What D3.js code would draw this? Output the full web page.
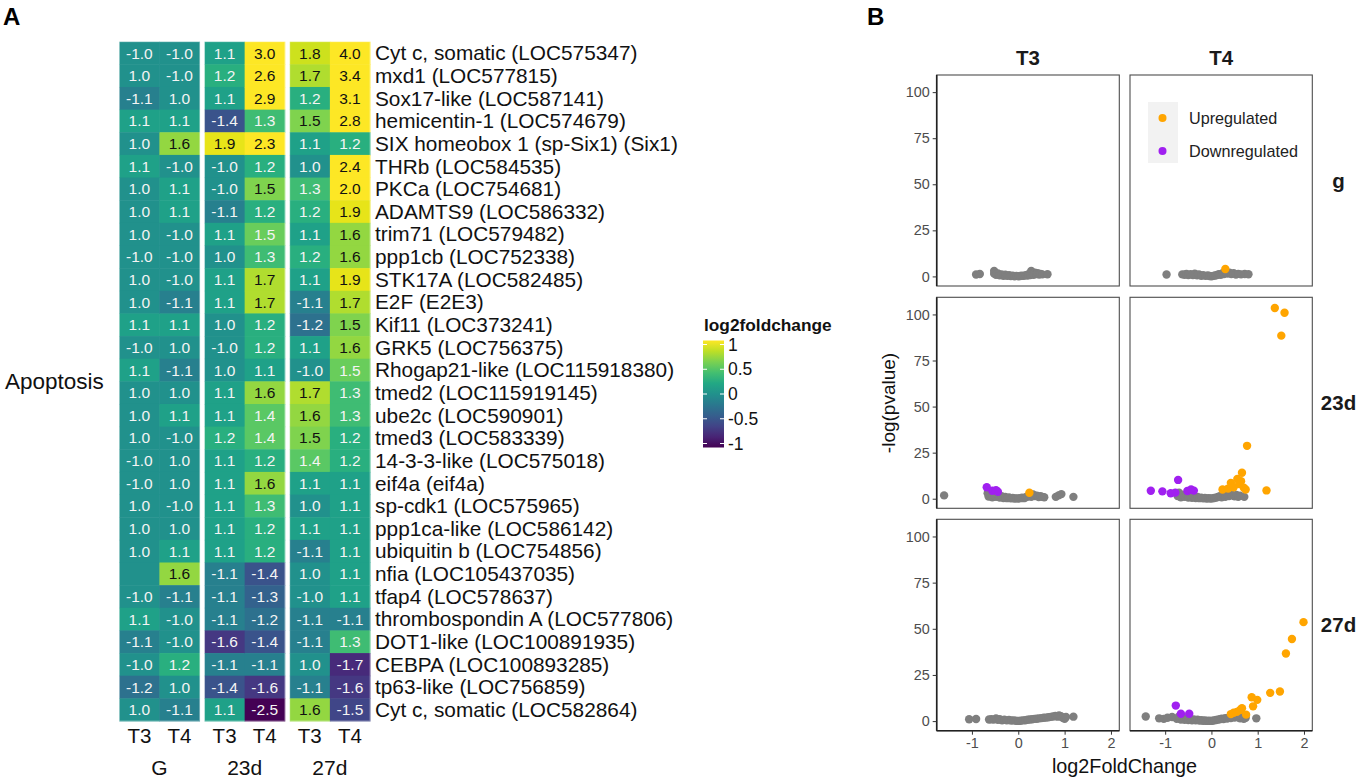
<!DOCTYPE html>
<html><head><meta charset="utf-8">
<script src="https://cdn.jsdelivr.net/npm/d3@7"></script>
<style>body{margin:0;background:#fff}svg{display:block;font-family:"Liberation Sans",Arial,sans-serif}</style>
</head><body><svg id="c" width="1358" height="780"></svg>
<script>
// ---------------- DATA ----------------
const genes = ["Cyt c, somatic (LOC575347)","mxd1 (LOC577815)","Sox17-like (LOC587141)","hemicentin-1 (LOC574679)","SIX homeobox 1 (sp-Six1) (Six1)","THRb (LOC584535)","PKCa (LOC754681)","ADAMTS9 (LOC586332)","trim71 (LOC579482)","ppp1cb (LOC752338)","STK17A (LOC582485)","E2F (E2E3)","Kif11 (LOC373241)","GRK5 (LOC756375)","Rhogap21-like (LOC115918380)","tmed2 (LOC115919145)","ube2c (LOC590901)","tmed3 (LOC583339)","14-3-3-like (LOC575018)","eif4a (eif4a)","sp-cdk1 (LOC575965)","ppp1ca-like (LOC586142)","ubiquitin b (LOC754856)","nfia (LOC105437035)","tfap4 (LOC578637)","thrombospondin A (LOC577806)","DOT1-like (LOC100891935)","CEBPA (LOC100893285)","tp63-like (LOC756859)","Cyt c, somatic (LOC582864)"];
const groups = ["G","23d","27d"];
const conditions = ["T3","T4"];
const G_T3   = [-1.0,1.0,-1.1,1.1,1.0,1.1,1.0,1.0,1.0,-1.0,1.0,1.0,1.1,-1.0,1.1,1.0,1.0,1.0,-1.0,-1.0,1.0,1.0,1.0,null,-1.0,1.1,-1.1,-1.0,-1.2,1.0];
const G_T4   = [-1.0,-1.0,1.0,1.1,1.6,-1.0,1.1,1.1,-1.0,-1.0,-1.0,-1.1,1.1,1.0,-1.1,1.0,1.1,-1.0,1.0,1.0,-1.0,1.0,1.1,1.6,-1.1,-1.0,-1.0,1.2,1.0,-1.1];
const d23_T3 = [1.1,1.2,1.1,-1.4,1.9,-1.0,-1.0,-1.1,1.1,1.0,1.1,1.1,1.0,-1.0,1.0,1.1,1.1,1.2,1.1,1.1,1.1,1.1,1.1,-1.1,-1.1,-1.1,-1.6,-1.1,-1.4,1.1];
const d23_T4 = [3.0,2.6,2.9,1.3,2.3,1.2,1.53,1.2,1.46,1.3,1.7,1.7,1.2,1.2,1.1,1.6,1.4,1.4,1.2,1.6,1.3,1.2,1.2,-1.4,-1.3,-1.2,-1.4,-1.1,-1.6,-2.5];
const d27_T3 = [1.8,1.7,1.2,1.53,1.1,1.0,1.3,1.2,1.1,1.2,1.1,-1.1,-1.2,1.1,-1.0,1.7,1.6,1.53,1.4,1.1,1.0,1.1,-1.1,1.0,-1.0,-1.1,-1.1,1.0,-1.1,1.6];
const d27_T4 = [4.0,3.4,3.1,2.8,1.2,2.4,2.0,1.9,1.6,1.6,1.9,1.7,1.53,1.6,1.46,1.3,1.3,1.2,1.2,1.1,1.1,1.1,1.1,1.1,1.1,-1.1,1.3,-1.7,-1.6,-1.5];
const columns = [G_T3, G_T4, d23_T3, d23_T4, d27_T3, d27_T4];
const legendTicks = [1, 0.5, 0, -0.5, -1];

// volcano: [log2FoldChange, -log(pvalue)]
const volcRows = ["g","23d","27d"];
const volcCols = ["T3","T4"];
const g_T3_gray = [[-0.91,1.0],[-0.83,1.3],[-0.52,2.9],[-0.52,1.5],[-0.48,0.9],[-0.44,1.6],[-0.40,0.6],[-0.36,1.1],[-0.32,0.4],[-0.28,0.9],[-0.24,0.3],[-0.20,0.6],[-0.16,0.2],[-0.12,0.4],[-0.08,0.1],[-0.04,0.3],[0.0,0.1],[0.04,0.2],[0.08,0.4],[0.12,0.3],[0.16,0.7],[0.20,0.5],[0.22,1.2],[0.26,0.8],[0.28,2.9],[0.30,1.5],[0.33,0.9],[0.36,2.0],[0.39,1.3],[0.42,1.7],[0.45,1.0],[0.48,1.4],[0.52,1.1],[0.63,1.2]];
const g_T4_gray = [[-0.97,1.0],[-0.63,1.1],[-0.58,0.9],[-0.54,1.4],[-0.50,0.7],[-0.45,1.2],[-0.40,0.8],[-0.36,1.5],[-0.31,0.6],[-0.27,1.0],[-0.22,0.4],[-0.18,0.7],[-0.13,0.3],[-0.08,0.5],[-0.04,0.2],[0.0,0.1],[0.04,0.3],[0.08,0.5],[0.12,0.8],[0.16,1.2],[0.20,0.9],[0.24,1.8],[0.27,1.3],[0.31,2.3],[0.35,1.6],[0.39,2.0],[0.43,1.3],[0.48,1.7],[0.53,1.0],[0.58,1.4],[0.64,1.1],[0.72,1.3],[0.80,1.2]];
const g_T4_up = [[0.30,4.0]];
const g_T3_up = [], g_T3_down = [], g_T4_down = [];
const d23_T3_gray = [[-1.60,1.8],[-0.66,3.0],[-0.64,1.2],[-0.60,2.2],[-0.56,0.8],[-0.52,1.8],[-0.48,1.0],[-0.44,2.5],[-0.40,0.6],[-0.36,1.4],[-0.32,0.4],[-0.28,1.0],[-0.24,0.3],[-0.20,0.7],[-0.16,0.2],[-0.12,0.4],[-0.08,0.1],[-0.04,0.2],[0.0,0.1],[0.04,0.3],[0.08,0.5],[0.12,0.3],[0.16,0.8],[0.20,1.2],[0.24,1.8],[0.28,1.0],[0.32,2.3],[0.36,1.4],[0.40,1.7],[0.44,0.9],[0.48,1.3],[0.52,1.0],[0.56,0.8],[0.81,1.0],[0.87,1.8],[0.93,2.5],[1.19,1.0]];
const d23_T3_down = [[-0.68,6.2],[-0.56,4.3],[-0.48,4.6],[-0.44,3.8]];
const d23_T3_up = [[0.24,3.2]];
const d23_T4_gray = [[-0.73,1.5],[-0.70,3.2],[-0.66,0.8],[-0.62,2.0],[-0.58,1.1],[-0.54,2.6],[-0.50,0.7],[-0.46,1.6],[-0.42,0.5],[-0.38,1.2],[-0.34,0.4],[-0.30,0.9],[-0.26,0.3],[-0.22,0.6],[-0.18,0.2],[-0.14,0.4],[-0.10,0.1],[-0.06,0.3],[-0.02,0.1],[0.02,0.2],[0.06,0.4],[0.10,0.6],[0.14,0.9],[0.18,1.3],[0.22,0.8],[0.26,1.7],[0.30,1.1],[0.34,2.2],[0.38,1.5],[0.42,2.6],[0.46,1.8],[0.50,1.3],[0.54,2.0],[0.58,1.0],[0.62,1.6],[0.71,1.0]];
const d23_T4_down = [[-1.31,4.3],[-1.06,4.0],[-0.88,3.0],[-0.78,3.3],[-0.72,10.2],[-0.52,4.2],[-0.44,5.0],[-0.38,4.4]];
const d23_T4_up = [[0.24,5.0],[0.36,5.5],[0.42,8.6],[0.48,6.2],[0.56,10.7],[0.60,8.0],[0.66,14.1],[0.64,9.5],[0.70,6.0],[0.74,5.0],[0.77,28.7],[1.19,4.5],[1.37,103.5],[1.58,100.9],[1.51,88.5]];
const d27_T3_gray = [[-1.06,1.0],[-0.91,1.1],[-0.63,0.9],[-0.58,1.0],[-0.53,0.8],[-0.48,1.4],[-0.44,0.7],[-0.40,1.0],[-0.35,0.5],[-0.30,0.8],[-0.25,0.4],[-0.20,0.6],[-0.15,0.3],[-0.10,0.4],[-0.05,0.2],[0.0,0.1],[0.05,0.2],[0.10,0.4],[0.15,0.5],[0.20,0.7],[0.25,0.9],[0.30,1.0],[0.35,1.2],[0.40,1.3],[0.45,1.5],[0.50,1.6],[0.55,1.8],[0.60,1.9],[0.65,2.1],[0.70,2.3],[0.75,2.5],[0.80,2.8],[0.85,2.4],[0.88,3.0],[0.92,2.6],[0.96,1.8],[1.00,1.2],[1.03,2.2],[1.19,2.4]];
const d27_T3_up = [], d27_T3_down = [];
const d27_T4_gray = [[-1.42,2.5],[-1.13,1.5],[-1.03,1.2],[-0.95,1.8],[-0.85,2.2],[-0.75,1.3],[-0.70,2.5],[-0.66,0.9],[-0.62,1.8],[-0.58,0.7],[-0.54,1.4],[-0.50,0.6],[-0.46,1.1],[-0.42,0.5],[-0.38,0.9],[-0.34,0.4],[-0.30,0.7],[-0.26,0.3],[-0.22,0.5],[-0.18,0.2],[-0.14,0.3],[-0.10,0.1],[-0.06,0.2],[-0.02,0.1],[0.02,0.2],[0.06,0.4],[0.10,0.6],[0.14,0.8],[0.18,1.0],[0.22,1.3],[0.26,1.1],[0.30,1.6],[0.34,1.4],[0.38,2.0],[0.42,1.7],[0.46,2.4],[0.50,1.9],[0.54,2.7],[0.58,2.1],[0.62,1.5],[0.66,2.4],[0.70,1.2],[0.74,1.8],[0.97,1.5]];
const d27_T4_down = [[-0.77,8.4],[-0.66,4.0],[-0.48,4.0]];
const d27_T4_up = [[0.42,3.8],[0.48,4.5],[0.55,5.0],[0.62,6.0],[0.66,7.0],[0.75,3.5],[0.87,12.9],[0.90,8.0],[0.99,11.5],[1.27,15.3],[1.48,16.0],[1.61,36.6],[1.74,44.5],[1.99,53.6]];
const volcData = {
  g:   {T3:{gray:g_T3_gray, down:g_T3_down, up:g_T3_up}, T4:{gray:g_T4_gray, down:g_T4_down, up:g_T4_up}},
  "23d":{T3:{gray:d23_T3_gray, down:d23_T3_down, up:d23_T3_up}, T4:{gray:d23_T4_gray, down:d23_T4_down, up:d23_T4_up}},
  "27d":{T3:{gray:d27_T3_gray, down:d27_T3_down, up:d27_T3_up}, T4:{gray:d27_T4_gray, down:d27_T4_down, up:d27_T4_up}}
};
const yTicks = [0,25,50,75,100];
const xTicks = [-1,0,1,2];
const legendItems = ["Upregulated","Downregulated"];

// ---------------- DRAW ----------------
const svg = d3.select("#c");
const FONT = '"Liberation Sans",Arial,sans-serif';
const fmtInt = v => (v<0?"-":"")+Math.abs(v);

// Panel A
svg.append("text").attr("x",3).attr("y",25).attr("font-size",24).attr("font-weight","bold").text("A");

const yRow = d3.scaleBand().domain(d3.range(genes.length)).range([41.7,721]);
const xGroup = d3.scaleBand().domain(groups).range([119.3,370]).paddingInner(0.0586);
const xCond = d3.scaleBand().domain(conditions).range([0,xGroup.bandwidth()]);
const color = d3.scaleSequential(d3.interpolateViridis).domain([-1,1]).clamp(true);
const lfc = v => v==null ? 0 : Math.sign(v)*Math.log2(Math.abs(v));

const cells = [];
columns.forEach((col,ci)=>{
  const g = groups[Math.floor(ci/2)], c = conditions[ci%2];
  col.forEach((v,ri)=>cells.push({g,c,ri,v}));
});
const hm = svg.append("g");
hm.selectAll("rect").data(cells).join("rect")
  .attr("x",d=>xGroup(d.g)+xCond(d.c)).attr("y",d=>yRow(d.ri))
  .attr("width",xCond.bandwidth()+0.5).attr("height",yRow.bandwidth()+0.5)
  .attr("fill",d=>color(lfc(d.v)));
hm.selectAll("text").data(cells.filter(d=>d.v!=null)).join("text")
  .attr("x",d=>xGroup(d.g)+xCond(d.c)+xCond.bandwidth()/2)
  .attr("y",d=>yRow(d.ri)+yRow.bandwidth()/2+5.5)
  .attr("text-anchor","middle").attr("font-size",15.5)
  .attr("fill",d=>lfc(d.v)>0.6?"#111":"#f4f4f4")
  .text(d=>(d.v<0?"-":"")+Math.abs(d.v).toFixed(1));
svg.append("g").selectAll("rect").data(groups).join("rect")
  .attr("x",d=>xGroup(d)).attr("y",yRow.range()[0]).attr("width",xGroup.bandwidth()).attr("height",yRow.range()[1]-yRow.range()[0])
  .attr("fill","none").attr("stroke","#ffffff").attr("stroke-opacity",0.35).attr("stroke-width",1);

// gene labels
svg.append("g").selectAll("text").data(genes).join("text")
  .attr("x",375).attr("y",(d,i)=>yRow(i)+yRow.bandwidth()/2+7.3)
  .attr("font-size",20.8).attr("fill","#111").text(d=>d);
svg.append("text").attr("x",5).attr("y",389).attr("font-size",22.5).attr("fill","#111").text("Apoptosis");
groups.forEach(g=>{
  conditions.forEach(c=>{
    svg.append("text").attr("x",xGroup(g)+xCond(c)+xCond.bandwidth()/2).attr("y",742.5)
      .attr("text-anchor","middle").attr("font-size",20.5).attr("fill","#111").text(c);
  });
  svg.append("text").attr("x",xGroup(g)+xGroup.bandwidth()/2).attr("y",775)
    .attr("text-anchor","middle").attr("font-size",21).attr("fill","#111").text(g);
});

// colour legend
svg.append("text").attr("x",704).attr("y",331).attr("font-size",17.3).attr("font-weight","bold").attr("fill","#111").text("log2foldchange");
const legY = d3.scaleLinear().domain([-1,1]).range([443.5,344.5]);
const defs = svg.append("defs");
const grad = defs.append("linearGradient").attr("id","vir").attr("x1",0).attr("y1",1).attr("x2",0).attr("y2",0);
d3.range(0,1.0001,0.1).forEach(t=>grad.append("stop").attr("offset",t).attr("stop-color",d3.interpolateViridis(t)));
svg.append("rect").attr("x",703).attr("y",legY(1)-4).attr("width",21).attr("height",legY(-1)-legY(1)+8).attr("fill","url(#vir)");
const lg = svg.append("g");
legendTicks.forEach(t=>{
  lg.append("line").attr("x1",703).attr("x2",707).attr("y1",legY(t)).attr("y2",legY(t)).attr("stroke","#fff").attr("stroke-width",1);
  lg.append("line").attr("x1",720).attr("x2",724).attr("y1",legY(t)).attr("y2",legY(t)).attr("stroke","#fff").attr("stroke-width",1);
  lg.append("text").attr("x",728).attr("y",legY(t)+6.2).attr("font-size",17.5).attr("fill","#111").text(t);
});

// Panel B
svg.append("text").attr("x",867).attr("y",25).attr("font-size",24).attr("font-weight","bold").text("B");
const colX = {T3:[936.7,1119.3], T4:[1130,1312.3]};
const rowY = {g:[75,286], "23d":[297.3,508.3], "27d":[519.3,730.7]};
const pointColor = {gray:"#7f7f7f", down:"#a020f0", up:"#ffa500"};

volcRows.forEach((r,ri)=>{
  volcCols.forEach((c,ci)=>{
    const x = d3.scaleLinear().domain([-1.76,2.18]).range(colX[c]);
    const y = d3.scaleLinear().domain([-5.2,109.3]).range([rowY[r][1],rowY[r][0]]);
    const p = svg.append("g");
    p.append("rect").attr("x",colX[c][0]).attr("y",rowY[r][0]).attr("width",colX[c][1]-colX[c][0]).attr("height",rowY[r][1]-rowY[r][0])
      .attr("fill","#fff").attr("stroke","#4d4d4d").attr("stroke-width",1.1);
    ["gray","down","up"].forEach(k=>{
      p.selectAll("circle."+k).data(volcData[r][c][k]).join("circle").attr("class",k)
        .attr("cx",d=>x(d[0])).attr("cy",d=>y(d[1])).attr("r",4.2).attr("fill",pointColor[k]);
    });
    if(ci===0){
      const ax = p.append("g").attr("transform",`translate(${colX[c][0]},0)`)
        .call(d3.axisLeft(y).tickValues(yTicks).tickFormat(fmtInt).tickSize(4).tickPadding(3));
      ax.select(".domain").attr("stroke","#222").attr("stroke-width",1.6).attr("d",`M0,${rowY[r][0]}V${rowY[r][1]}`);
      ax.selectAll(".tick line").attr("stroke","#333");
      ax.selectAll(".tick text").attr("fill","#4d4d4d").attr("font-size",14.4).attr("font-family",FONT);
    }
    if(ri===volcRows.length-1){
      const ax = p.append("g").attr("transform",`translate(0,${rowY[r][1]})`)
        .call(d3.axisBottom(x).tickValues(xTicks).tickFormat(fmtInt).tickSize(4).tickPadding(3));
      ax.select(".domain").attr("stroke","#222").attr("stroke-width",1.6).attr("d",`M${colX[c][0]},0H${colX[c][1]}`);
      ax.selectAll(".tick line").attr("stroke","#333");
      ax.selectAll(".tick text").attr("fill","#4d4d4d").attr("font-size",14.4).attr("font-family",FONT);
    }
    if(ri===0){
      svg.append("text").attr("x",(colX[c][0]+colX[c][1])/2).attr("y",65).attr("text-anchor","middle")
        .attr("font-size",20.5).attr("font-weight","bold").attr("fill","#1a1a1a").text(c);
    }
    if(ci===volcCols.length-1){
      svg.append("text").attr("x",1338.5).attr("y",(rowY[r][0]+rowY[r][1])/2+7).attr("text-anchor","middle")
        .attr("font-size",20.5).attr("font-weight","bold").attr("fill","#1a1a1a").text(r);
    }
  });
});
svg.append("text").attr("transform","translate(895,403) rotate(-90)").attr("text-anchor","middle")
  .attr("font-size",19).attr("fill","#111").text("-log(pvalue)");
svg.append("text").attr("x",1124.5).attr("y",773).attr("text-anchor","middle")
  .attr("font-size",19.8).attr("fill","#111").text("log2FoldChange");
const leg = svg.append("g");
leg.append("rect").attr("x",1148).attr("y",102).attr("width",30).attr("height",61).attr("fill","#f2f2f2");
legendItems.forEach((t,i)=>{
  leg.append("circle").attr("cx",1162.5).attr("cy",118+i*33).attr("r",4).attr("fill",i===0?pointColor.up:pointColor.down);
  leg.append("text").attr("x",1189).attr("y",118+i*33+5.8).attr("font-size",16.2).attr("fill","#222").text(t);
});
</script></body></html>
